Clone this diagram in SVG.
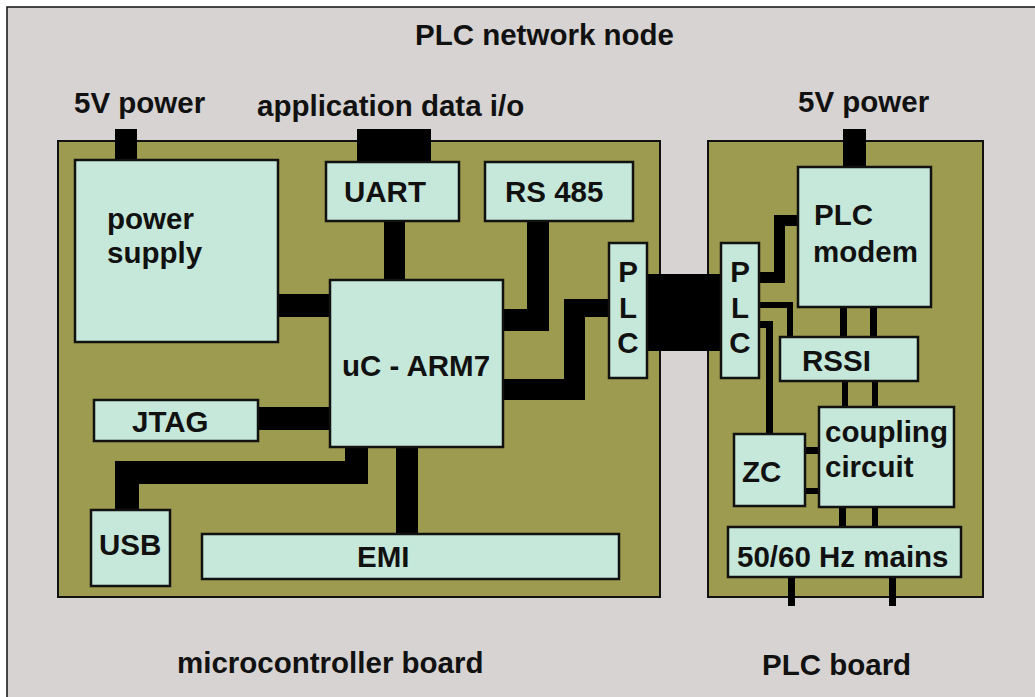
<svg xmlns="http://www.w3.org/2000/svg" width="1035" height="697" viewBox="0 0 1035 697">
<style>
text{font-family:"Liberation Sans",Arial,sans-serif;font-weight:bold;font-size:29.5px;fill:#111}
.board{fill:#9d9b4f;stroke:#111;stroke-width:2}
.box{fill:#c6e8da;stroke:#111;stroke-width:2.5}
.wire{fill:#000}
.mid{text-anchor:middle}
</style>
<rect x="0" y="0" width="1035" height="697" fill="#fff"/>
<rect x="7" y="7" width="1040" height="700" fill="#d6d3d2" stroke="#111" stroke-width="1.5"/>
<g id="labels">
<text x="415" y="45">PLC network node</text>
<text x="74" y="113">5V power</text>
<text x="257" y="116">application data i/o</text>
<text x="798" y="112">5V power</text>
<text x="177" y="673">microcontroller board</text>
<text x="762" y="675">PLC board</text>
</g>
<g id="boards">
<rect id="microcontroller-board" class="board" x="58" y="141" width="602" height="456"/>
<rect id="plc-board" class="board" x="708" y="141" width="275" height="456"/>
</g>
<g id="connectors" class="wire">
<rect x="115" y="129" width="22" height="32"/>
<rect x="357" y="129" width="74" height="34"/>
<rect x="843" y="129" width="23" height="39"/>
<rect x="277" y="294" width="54" height="23"/>
<rect x="384" y="220" width="21" height="61"/>
<path d="M527,220 H549 V331 H502 V309 H527 Z"/>
<path d="M502,379 H564 V299 H610 V317 H585 V400 H502 Z"/>
<rect x="257" y="407" width="74" height="23"/>
<path d="M345,446 H368 V484 H139 V511 H115 V461 H345 Z"/>
<rect x="396" y="446" width="22" height="89"/>
<rect x="646" y="274" width="76" height="77"/>
<path d="M758,272 H774 V215 H799 V226 H785 V283 H758 Z"/>
<path d="M758,302 H793 V338 H787 V308 H758 Z"/>
<path d="M758,321 H773 V435 H766 V328 H758 Z"/>
<rect x="840" y="306" width="7" height="32"/>
<rect x="870" y="306" width="7" height="32"/>
<rect x="842" y="380" width="6" height="28"/>
<rect x="872" y="380" width="6" height="28"/>
<rect x="804" y="447" width="16" height="7"/>
<rect x="804" y="488" width="16" height="6"/>
<rect x="839" y="506" width="7" height="22"/>
<rect x="872" y="506" width="6" height="22"/>
<rect x="788" y="576" width="7" height="30"/>
<rect x="889" y="576" width="7" height="30"/>
</g>
<g id="power-supply"><rect class="box" x="75" y="160" width="203" height="182"/><text x="107" y="229">power</text><text x="107" y="263">supply</text></g>
<g id="uart"><rect class="box" x="326" y="162" width="133" height="59"/><text x="344" y="202">UART</text></g>
<g id="rs485"><rect class="box" x="485" y="162" width="148" height="59"/><text x="505" y="202">RS 485</text></g>
<g id="uc-arm7"><rect class="box" x="330" y="280" width="173" height="167"/><text x="342" y="376">uC - ARM7</text></g>
<g id="jtag"><rect class="box" x="94" y="400" width="164" height="41"/><text x="132" y="432">JTAG</text></g>
<g id="usb"><rect class="box" x="91" y="510" width="79" height="76"/><text x="99" y="555">USB</text></g>
<g id="emi"><rect class="box" x="202" y="534" width="417" height="45"/><text x="357" y="567">EMI</text></g>
<g id="plc-left"><rect class="box" x="609" y="243" width="38" height="135"/><text class="mid" x="628" y="282">P</text><text class="mid" x="628" y="318">L</text><text class="mid" x="628" y="353">C</text></g>
<g id="plc-right"><rect class="box" x="721" y="243" width="38" height="135"/><text class="mid" x="740" y="282">P</text><text class="mid" x="740" y="318">L</text><text class="mid" x="740" y="353">C</text></g>
<g id="plc-modem"><rect class="box" x="798" y="167" width="133" height="140"/><text x="814" y="225">PLC</text><text x="813" y="262">modem</text></g>
<g id="rssi"><rect class="box" x="780" y="337" width="138" height="44"/><text x="802" y="371">RSSI</text></g>
<g id="coupling-circuit"><rect class="box" x="819" y="407" width="135" height="100"/><text x="825" y="442">coupling</text><text x="825" y="477">circuit</text></g>
<g id="zc"><rect class="box" x="734" y="434" width="71" height="72"/><text x="742" y="482">ZC</text></g>
<g id="mains"><rect class="box" x="728" y="527" width="233" height="50"/><text x="737" y="567">50/60 Hz mains</text></g>
</svg>
